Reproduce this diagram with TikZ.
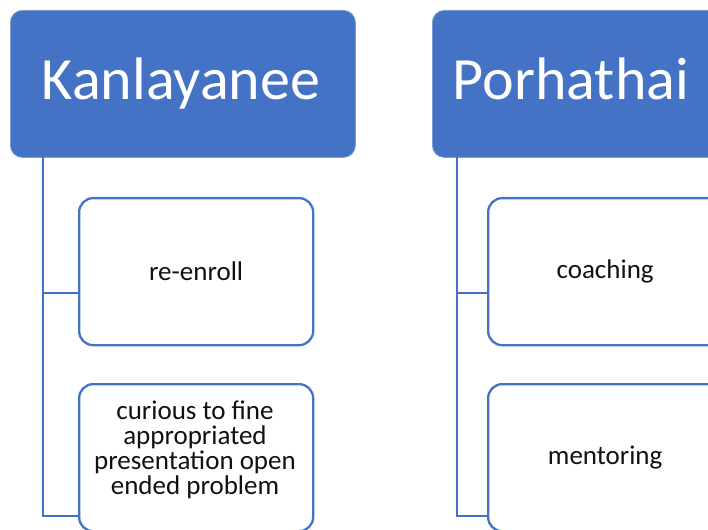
\documentclass[tikz,border=0pt]{standalone}
\usepackage{fontspec}
\setmainfont{Carlito}
\definecolor{ofblue}{HTML}{4472C4}
\definecolor{txt}{HTML}{111111}
\begin{document}
\begin{tikzpicture}[x=1pt,y=-1pt,
  head/.style={rectangle,rounded corners=12pt,fill=ofblue,draw=ofblue!70!white,line width=0.8pt,
    minimum width=345pt,minimum height=147pt,anchor=north west,inner sep=0pt},
  headtxt/.style={text=white,font=\fontsize{60}{64}\selectfont,text height=40pt,text depth=0pt,inner sep=0pt,anchor=base},
  sub/.style={rectangle,rounded corners=14pt,draw=ofblue,line width=2.3pt,fill=white,
    minimum width=234pt,minimum height=147pt,anchor=north west,text=txt,align=center,
    font=\fontsize{27}{25}\selectfont,inner sep=0pt},
  subtxt/.style={text=txt,align=center,font=\fontsize{27}{25}\selectfont,inner sep=0pt},
  conn/.style={draw=ofblue,line width=2.5pt}]
\useasboundingbox (0,0) rectangle (708,529);
\begin{scope}
\clip (0,0) rectangle (708,529);
% left column
\node[head] (k) at (10,10) {};
\node[headtxt] (kt) at (181,100) {Kanlayanee};
\coordinate (kr) at (43,157);
\node[sub] (k1) at (78,197) {re-enroll};
\node[sub] (k2) at (78,383) {};
\node[subtxt] (k2t) at (195,450) {curious to fine\\appropriated\\presentation open\\ended problem};
\draw[conn] (kr) |- ([yshift=-21.5pt]k1.west);
\draw[conn] (kr) |- ([yshift=-58.5pt]k2.west);
% right column
\node[head] (p) at (432,10) {};
\node[headtxt] (pt) at (571,100) {Porhathai};
\coordinate (pr) at (457,157);
\node[sub] (p1) at (487,197) {coaching};
\node[sub] (p2) at (487,383) {mentoring};
\draw[conn] (pr) |- ([yshift=-21.5pt]p1.west);
\draw[conn] (pr) |- ([yshift=-58.5pt]p2.west);
\end{scope}
\end{tikzpicture}
\end{document}
